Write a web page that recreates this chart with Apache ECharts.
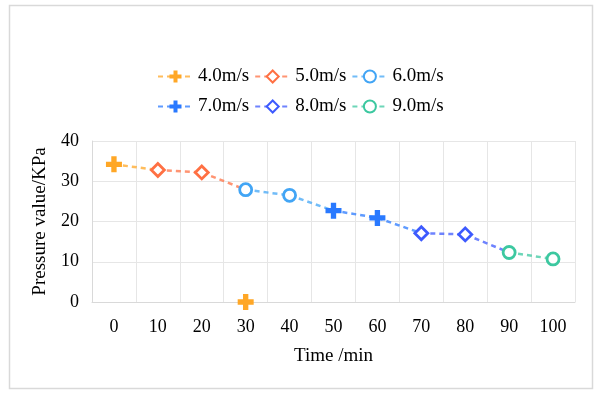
<!DOCTYPE html>
<html>
<head>
<meta charset="utf-8">
<script src="https://cdn.jsdelivr.net/npm/echarts@6/dist/echarts.min.js"></script>
<style>html,body{margin:0;padding:0;background:#fff}#c{width:600px;height:395px}</style>
</head>
<body>
<div id="c"></div>
<script>
// ---- data ----
const categories = ['0','10','20','30','40','50','60','70','80','90','100'];
const pressure = [34.2, 32.8, 32.2, 27.9, 26.5, 22.7, 20.9, 17.1, 16.8, 12.3, 10.7];
// which speed group each time point belongs to (index into speeds)
const speedGroup = [0, 1, 1, 2, 2, 3, 3, 4, 4, 5, 5];
const speeds = ['4.0m/s','5.0m/s','6.0m/s','7.0m/s','8.0m/s','9.0m/s'];
// stray point of the 4.0m/s series: [category index, value]
const strayPoint40 = [3, 0];

// ---- styles ----
const colors = ['#FFA726','#FF7043','#42A5F5','#2979FF','#3D5AFE','#3CC8A0'];
const plusPath = 'path://M5,0h5v5h5v5h-5v5h-5v-5h-5v-5h5z';
const symbolDefs = [
  {symbol: plusPath, size: 16, filled: true},
  {symbol: 'diamond', size: 13, filled: false},
  {symbol: 'circle', size: 12, filled: false},
  {symbol: plusPath, size: 16, filled: true},
  {symbol: 'diamond', size: 13, filled: false},
  {symbol: 'circle', size: 12, filled: false}
];
const FONT = '"Liberation Serif","Times New Roman",serif';

const series = speeds.map((name, g) => {
  const data = categories.map((c, i) => {
    if (speedGroup[i] === g) return pressure[i];
    if (i > 0 && speedGroup[i - 1] === g) return {value: pressure[i], symbol: 'none'};
    return null;
  });
  if (g === 0) data[strayPoint40[0]] = strayPoint40[1];
  const sd = symbolDefs[g];
  return {
    name, type: 'line', data,
    symbol: sd.symbol, symbolSize: sd.size,
    connectNulls: false,
    lineStyle: {color: colors[g], width: 2.5, type: [5, 4], opacity: 0.75},
    itemStyle: sd.filled
      ? {color: colors[g], borderWidth: 0}
      : {color: '#fff', borderColor: colors[g], borderWidth: 2.8},
    emphasis: {disabled: true},
    z: 2 + g
  };
});

const legendCommon = {
  itemWidth: 35, itemHeight: 15, itemGap: 5, padding: 0,
  textStyle: {fontFamily: FONT, fontSize: 19, color: '#000'},
  selectedMode: false
};

const chart = echarts.init(document.getElementById('c'), null, {renderer: 'canvas'});
chart.setOption({
  animation: false,
  backgroundColor: '#fff',
  graphic: [{
    type: 'rect', shape: {x: 9.5, y: 5.5, width: 583, height: 383},
    style: {fill: 'none', stroke: '#d9d9d9', lineWidth: 1.5}, z: -1
  }],
  legend: [
    Object.assign({data: speeds.slice(0, 3), left: 157, top: 67}, legendCommon),
    Object.assign({data: speeds.slice(3), left: 157, top: 97}, legendCommon)
  ],
  grid: {left: 92, right: 25, top: 141, bottom: 93},
  xAxis: {
    type: 'category', data: categories, boundaryGap: true,
    name: 'Time /min', nameLocation: 'middle', nameGap: 45,
    nameTextStyle: {fontFamily: FONT, fontSize: 19, color: '#000'},
    axisLine: {lineStyle: {color: '#d9d9d9', width: 1}},
    axisTick: {show: false},
    axisLabel: {fontFamily: FONT, fontSize: 18, color: '#000', margin: 16},
    splitLine: {show: true, lineStyle: {color: '#e6e6e6', width: 1}}
  },
  yAxis: {
    type: 'value', min: 0, max: 40, interval: 10,
    name: 'Pressure value/KPa', nameLocation: 'middle', nameGap: 42,
    nameTextStyle: {fontFamily: FONT, fontSize: 19, color: '#000'},
    axisLine: {show: true, lineStyle: {color: '#d9d9d9', width: 1}},
    axisTick: {show: false},
    axisLabel: {fontFamily: FONT, fontSize: 18, color: '#000', margin: 13},
    splitLine: {lineStyle: {color: '#e6e6e6', width: 1}}
  },
  series
});
</script>
</body>
</html>
